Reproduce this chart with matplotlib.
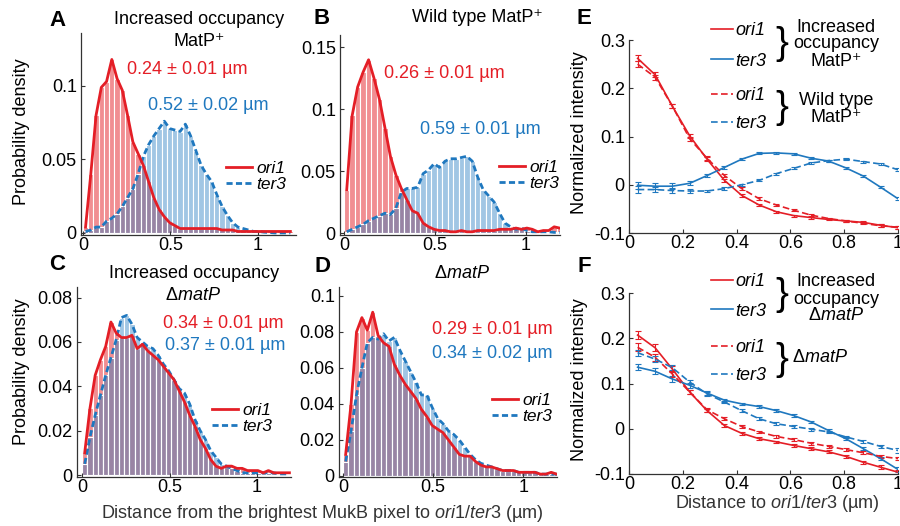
import numpy as np
import matplotlib.pyplot as plt
from matplotlib.colors import to_rgb
from matplotlib.legend import Legend
from matplotlib.ticker import FuncFormatter

plt.rcParams['font.family'] = ['Liberation Sans', 'DejaVu Sans']
plt.rcParams['mathtext.fontset'] = 'custom'
plt.rcParams['mathtext.rm'] = 'Liberation Sans'
plt.rcParams['mathtext.it'] = 'Liberation Sans:italic'
plt.rcParams['font.size'] = 13

RED = '#e41e26'
BLUE = '#1f78bf'

# histogram bins (width 0.03 um, 0 - 1.2 um)
bin_width = 0.03
bin_centers = np.arange(40) * bin_width + bin_width / 2

# A: increased occupancy MatP+
a_ori1 = [0.004, 0.040, 0.080, 0.099, 0.103, 0.118, 0.105, 0.097, 0.080, 0.062,
          0.054, 0.046, 0.035, 0.024, 0.016, 0.011, 0.007, 0.005, 0.003, 0.003,
          0.003, 0.003, 0.003, 0.003, 0.003, 0.003, 0.002, 0.002, 0.002, 0.001,
          0.001, 0.001, 0.001, 0.001, 0.001, 0.001, 0.001, 0.001, 0.001, 0.001]
a_ter3 = [0.001, 0.002, 0.004, 0.004, 0.008, 0.010, 0.013, 0.018, 0.024, 0.030,
          0.040, 0.052, 0.060, 0.066, 0.071, 0.076, 0.071, 0.070, 0.069, 0.074,
          0.066, 0.056, 0.046, 0.040, 0.035, 0.026, 0.018, 0.012, 0.007, 0.004,
          0.003, 0.002, 0.001, 0.001, 0.0005, 0.0003, 0.0, 0.0, 0.0, 0.0]
# B: wild type MatP+
b_ori1 = [0.035, 0.095, 0.118, 0.130, 0.140, 0.125, 0.108, 0.085, 0.062, 0.047,
          0.036, 0.027, 0.018, 0.016, 0.008, 0.005, 0.003, 0.002, 0.002, 0.001,
          0.001, 0.002, 0.001, 0.001, 0.002, 0.002, 0.002, 0.002, 0.003, 0.003,
          0.003, 0.004, 0.003, 0.004, 0.003, 0.001, 0.002, 0.002, 0.005, 0.004]
b_ter3 = [0.001, 0.003, 0.005, 0.007, 0.010, 0.012, 0.014, 0.016, 0.015, 0.020,
          0.033, 0.036, 0.036, 0.037, 0.048, 0.051, 0.056, 0.053, 0.058, 0.060,
          0.060, 0.061, 0.062, 0.058, 0.045, 0.035, 0.030, 0.025, 0.016, 0.008,
          0.005, 0.003, 0.004, 0.002, 0.001, 0.001, 0.001, 0.001, 0.0005, 0.0005]
# C: increased occupancy dmatP
c_ori1 = [0.010, 0.030, 0.045, 0.052, 0.058, 0.069, 0.064, 0.062, 0.062, 0.063,
          0.057, 0.059, 0.056, 0.054, 0.052, 0.049, 0.046, 0.043, 0.038, 0.033,
          0.027, 0.022, 0.016, 0.012, 0.007, 0.004, 0.003, 0.004, 0.004, 0.003,
          0.003, 0.002, 0.002, 0.002, 0.001, 0.002, 0.001, 0.001, 0.001, 0.001]
c_ter3 = [0.005, 0.017, 0.027, 0.036, 0.045, 0.053, 0.061, 0.071, 0.072, 0.068,
          0.062, 0.060, 0.058, 0.057, 0.054, 0.050, 0.047, 0.043, 0.039, 0.037,
          0.032, 0.025, 0.020, 0.016, 0.011, 0.008, 0.005, 0.004, 0.003, 0.002,
          0.001, 0.001, 0.001, 0.001, 0.001, 0.001, 0.001, 0.0005, 0.0005, 0.0005]
# D: dmatP
d_ori1 = [0.012, 0.040, 0.080, 0.088, 0.081, 0.091, 0.078, 0.074, 0.072, 0.062,
          0.056, 0.051, 0.047, 0.043, 0.037, 0.033, 0.028, 0.026, 0.024, 0.020,
          0.016, 0.012, 0.011, 0.011, 0.008, 0.006, 0.005, 0.005, 0.004, 0.003,
          0.003, 0.003, 0.002, 0.002, 0.002, 0.002, 0.001, 0.001, 0.002, 0.001]
d_ter3 = [0.008, 0.025, 0.045, 0.060, 0.074, 0.077, 0.076, 0.079, 0.075, 0.077,
          0.070, 0.064, 0.058, 0.052, 0.045, 0.045, 0.038, 0.032, 0.029, 0.025,
          0.023, 0.020, 0.016, 0.012, 0.009, 0.007, 0.006, 0.005, 0.004, 0.003,
          0.003, 0.003, 0.002, 0.002, 0.002, 0.002, 0.001, 0.001, 0.001, 0.001]

# E/F: intensity profiles
dist = [0.032, 0.097, 0.161, 0.226, 0.290, 0.355, 0.419, 0.484,
        0.548, 0.613, 0.677, 0.742, 0.806, 0.871, 0.935, 1.0]
e_ori1_inc = [0.262, 0.228, 0.163, 0.101, 0.053, 0.009, -0.022, -0.042,
              -0.056, -0.064, -0.068, -0.072, -0.075, -0.078, -0.084, -0.089]
e_ori1_wt = [0.250, 0.223, 0.163, 0.095, 0.055, 0.019, -0.008, -0.029,
             -0.042, -0.053, -0.063, -0.070, -0.075, -0.080, -0.085, -0.088]
e_ter3_inc = [-0.001, -0.003, -0.003, 0.003, 0.019, 0.036, 0.053, 0.065,
              0.066, 0.064, 0.055, 0.049, 0.035, 0.018, -0.005, -0.029]
e_ter3_wt = [-0.010, -0.010, -0.012, -0.013, -0.013, -0.008, 0.000, 0.009,
             0.023, 0.034, 0.045, 0.050, 0.053, 0.048, 0.043, 0.031]
e_err_ori1 = [0.006, 0.005, 0.004, 0.004, 0.004, 0.003, 0.003, 0.003,
              0.002, 0.002, 0.002, 0.002, 0.002, 0.002, 0.003, 0.003]
e_err_ter3 = [0.007, 0.006, 0.006, 0.004, 0.003, 0.003, 0.002, 0.002,
              0.002, 0.002, 0.002, 0.002, 0.002, 0.002, 0.002, 0.003]

f_ori1_inc = [0.207, 0.179, 0.132, 0.081, 0.040, 0.007, -0.010, -0.022,
              -0.029, -0.037, -0.044, -0.051, -0.061, -0.074, -0.085, -0.096]
f_ori1_mat = [0.180, 0.158, 0.121, 0.081, 0.042, 0.022, 0.005, -0.007,
              -0.017, -0.024, -0.032, -0.039, -0.046, -0.053, -0.061, -0.066]
f_ter3_inc = [0.136, 0.127, 0.110, 0.096, 0.079, 0.063, 0.055, 0.049,
              0.040, 0.029, 0.015, -0.004, -0.022, -0.044, -0.066, -0.090]
f_ter3_mat = [0.168, 0.154, 0.135, 0.103, 0.077, 0.059, 0.040, 0.022,
              0.011, 0.005, -0.001, -0.007, -0.018, -0.028, -0.039, -0.048]
f_err_ori1 = [0.009, 0.008, 0.006, 0.005, 0.004, 0.003, 0.003, 0.003,
              0.003, 0.003, 0.003, 0.003, 0.003, 0.003, 0.004, 0.004]
f_err_ter3 = [0.007, 0.007, 0.006, 0.005, 0.004, 0.003, 0.003, 0.003,
              0.003, 0.003, 0.003, 0.003, 0.003, 0.003, 0.004, 0.005]

W, H = 900, 526
fig = plt.figure(figsize=(9, 5.26), dpi=100)


def px(x, y):
    return x / W, 1 - y / H


def add_ax(left, top, right, bottom):
    return fig.add_axes([left / W, 1 - bottom / H, (right - left) / W, (bottom - top) / H])


fmt = FuncFormatter(lambda v, p: f'{v:g}')


def style(ax):
    for s in ['top', 'right']:
        ax.spines[s].set_visible(False)
    for s in ['left', 'bottom']:
        ax.spines[s].set_color('#333333')
        ax.spines[s].set_linewidth(0.9)
    ax.tick_params(direction='in', length=3, width=0.8, labelsize=13, pad=3,
                   color='#333333')
    ax.tick_params(axis='x', pad=1.5)
    ax.xaxis.set_major_formatter(fmt)
    ax.yaxis.set_major_formatter(fmt)


def make_legend(ax, handles, xy, **kw):
    opts = dict(loc='upper left', bbox_to_anchor=px(*xy),
                bbox_transform=fig.transFigure, frameon=False, borderpad=0,
                borderaxespad=0)
    opts.update(kw)
    leg = Legend(ax, handles, ['ori1', 'ter3'], **opts)
    ax.add_artist(leg)


def hist_panel(ax, ori1, ter3, xlim, ylim, yticks, leg_xy):
    ax.bar(bin_centers, ori1, width=bin_width, color=(*to_rgb(RED), 0.5),
           edgecolor='white', linewidth=0.8)
    ax.bar(bin_centers, ter3, width=bin_width, color=(*to_rgb(BLUE), 0.42),
           edgecolor='white', linewidth=0.8)
    lt, = ax.plot(bin_centers, ter3, color=BLUE, lw=2, ls=(0, (2.2, 1.2)))
    lo, = ax.plot(bin_centers, ori1, color=RED, lw=2)
    ax.set_xlim(*xlim)
    ax.set_ylim(*ylim)
    ax.set_xticks([0, 0.5, 1])
    ax.set_yticks(yticks)
    style(ax)
    make_legend(ax, [lo, lt], leg_xy, handlelength=1.5, handletextpad=0.25,
                labelspacing=0.05, prop={'style': 'italic', 'size': 12.5})


axA = add_ax(81, 33, 296, 235)
hist_panel(axA, a_ori1, a_ter3, (-0.011, 1.217), (-0.0014, 0.136),
           [0, 0.05, 0.1], (226, 161))
axB = add_ax(340, 35, 560, 235)
hist_panel(axB, b_ori1, b_ter3, (-0.022, 1.187), (-0.0016, 0.160),
           [0, 0.05, 0.1, 0.15], (499, 160))
axC = add_ax(77, 287, 291, 477)
hist_panel(axC, c_ori1, c_ter3, (-0.029, 1.194), (-0.0009, 0.0848),
           [0, 0.02, 0.04, 0.06, 0.08], (212, 403))
axD = add_ax(339, 287, 557, 477)
hist_panel(axD, d_ori1, d_ter3, (-0.022, 1.187), (-0.0006, 0.105),
           [0, 0.02, 0.04, 0.06, 0.08, 0.1], (492, 393))


def profile_panel(ax, sol_o, sol_t, das_o, das_t, err_o, err_t):
    kw = dict(lw=1.2, elinewidth=0.8, capsize=2, capthick=0.8)
    h1 = ax.errorbar(dist, sol_o, yerr=err_o, color=RED, **kw)
    h2 = ax.errorbar(dist, sol_t, yerr=err_t, color=BLUE, **kw)
    h3 = ax.errorbar(dist, das_o, yerr=err_o, color=RED, ls=(0, (4, 2)), **kw)
    h4 = ax.errorbar(dist, das_t, yerr=err_t, color=BLUE, ls=(0, (4, 2)), **kw)
    ax.set_xlim(0, 1)
    ax.set_ylim(-0.1, 0.3)
    ax.set_xticks([0, 0.2, 0.4, 0.6, 0.8, 1])
    ax.set_yticks([-0.1, 0, 0.1, 0.2, 0.3])
    style(ax)
    return h1[0], h2[0], h3[0], h4[0]


def group_legend(ax, handles, xy, spacing):
    make_legend(ax, handles, xy, handlelength=1.2, handletextpad=0.15,
                labelspacing=spacing, prop={'style': 'italic', 'size': 13})


axE = add_ax(629, 40, 898, 233)
hE = profile_panel(axE, e_ori1_inc, e_ter3_inc, e_ori1_wt, e_ter3_wt,
                   e_err_ori1, e_err_ter3)
group_legend(axE, hE[:2], (711, 22), 0.75)
group_legend(axE, hE[2:], (711, 87), 0.6)

axF = add_ax(629, 293, 898, 474)
hF = profile_panel(axF, f_ori1_inc, f_ter3_inc, f_ori1_mat, f_ter3_mat,
                   f_err_ori1, f_err_ter3)
group_legend(axF, hF[:2], (711, 273), 0.7)
group_legend(axF, hF[2:], (711, 339), 0.6)


def txt(x, y, s, **kw):
    kw.setdefault('ha', 'center')
    kw.setdefault('va', 'center')
    fig.text(*px(x, y), s, **kw)


# panel letters
for letter, (x, y) in zip('ABCDEF', [(58, 20), (322, 18), (57, 265),
                                     (322, 267), (584, 18), (584, 267)]):
    txt(x, y, letter, fontsize=16, fontweight='bold')

dmatp = r'$\Delta\mathit{matP}$'
txt(199, 20, 'Increased occupancy')
txt(199, 41, 'MatP⁺')
txt(477, 18, 'Wild type MatP⁺')
txt(194, 274, 'Increased occupancy')
txt(193, 295, dmatp)
txt(462, 273, dmatp)

# mean distances
txt(187, 70, '0.24 ± 0.01 µm', color=RED)
txt(208, 105, '0.52 ± 0.02 µm', color=BLUE)
txt(444, 73, '0.26 ± 0.01 µm', color=RED)
txt(480, 130, '0.59 ± 0.01 µm', color=BLUE)
txt(223, 323, '0.34 ± 0.01 µm', color=RED)
txt(225, 346, '0.37 ± 0.01 µm', color=BLUE)
txt(492, 330, '0.29 ± 0.01 µm', color=RED)
txt(492, 353, '0.34 ± 0.02 µm', color=BLUE)

# axis labels
txt(22, 132, 'Probability density', rotation=90)
txt(22, 372, 'Probability density', rotation=90)
txt(322, 513, r'Distance from the brightest MukB pixel to $\mathit{ori1/ter3}$ (µm)',
    color='#333333')
txt(580, 133, 'Normalized intensity', rotation=90)
txt(580, 380, 'Normalized intensity', rotation=90)
txt(777, 503, r'Distance to $\mathit{ori1/ter3}$ (µm)', color='#333333')

# group braces and labels for E/F
txt(782, 44, '}', fontsize=28)
txt(836, 44, 'Increased\noccupancy\nMatP⁺', linespacing=1.0)
txt(782, 108, '}', fontsize=28)
txt(836, 109, 'Wild type\nMatP⁺', linespacing=1.0)
txt(782, 295, '}', fontsize=28)
txt(836, 299, 'Increased\noccupancy\n' + dmatp, linespacing=1.0)
txt(782, 360, '}', fontsize=28)
txt(792, 358, dmatp, ha='left')

fig.savefig('out.png', dpi=100)
